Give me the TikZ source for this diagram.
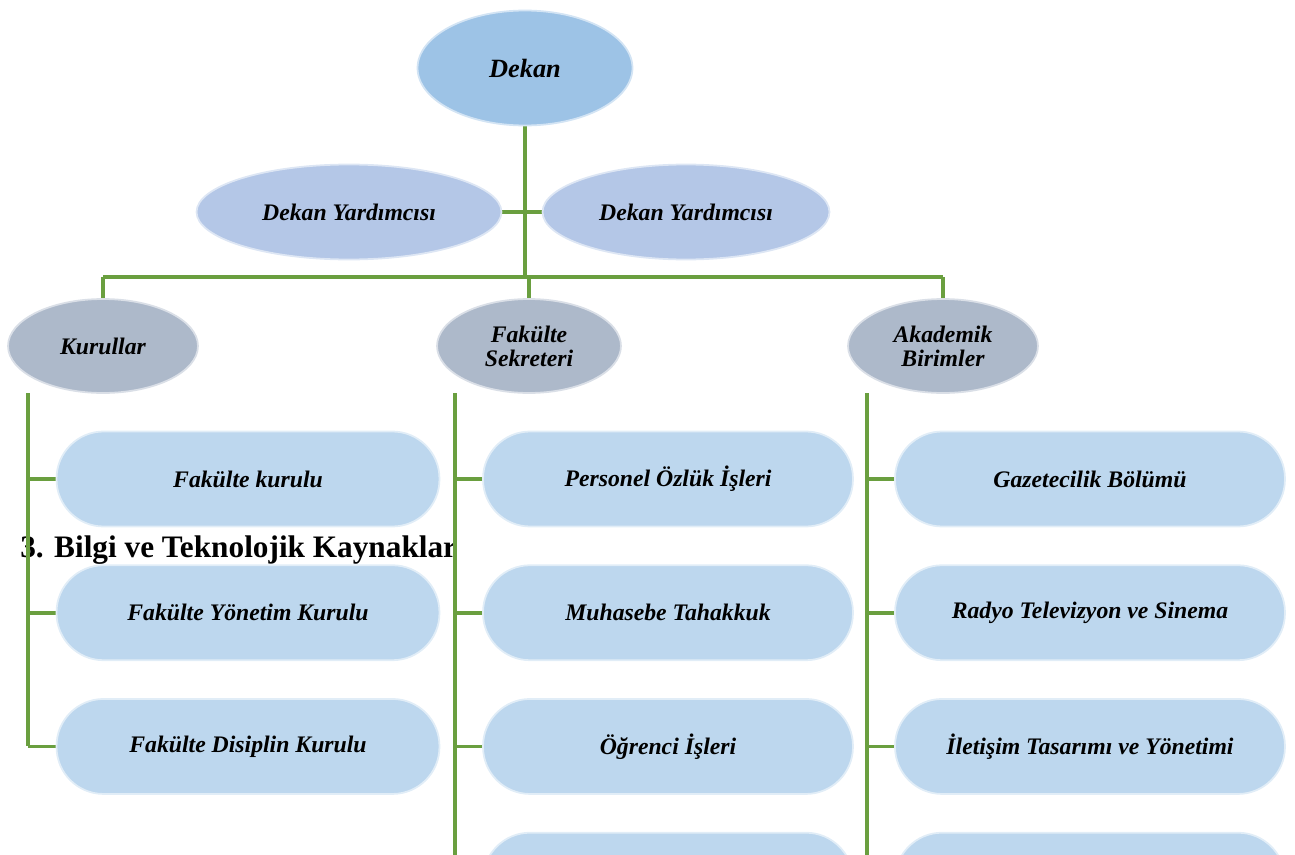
\documentclass[tikz,border=0pt]{standalone}
\usepackage{fontspec}
\setmainfont{Liberation Serif}
\usetikzlibrary{shapes.geometric, positioning, backgrounds}

\definecolor{dekanblue}{HTML}{9DC3E6}
\definecolor{yardblue}{HTML}{B4C7E7}
\definecolor{unitgrey}{HTML}{ADB9CA}
\definecolor{pillblue}{HTML}{BDD7EE}
\definecolor{linkgreen}{HTML}{6A9F3F}

\begin{document}
\begin{tikzpicture}[x=0.02cm, y=-0.02cm, node distance=0.74cm]
\tikzstyle{oval}=[ellipse, inner sep=0pt, align=center, line width=1pt,
  font=\fontsize{13.5}{13.7}\selectfont\bfseries\itshape]
\tikzstyle{pill}=[rectangle, rounded corners=0.94cm, minimum height=1.9cm, inner sep=0pt,
  fill=pillblue, draw=white!55!pillblue, line width=1pt,
  font=\fontsize{13.5}{14}\selectfont\bfseries\itshape]
\tikzstyle{link}=[draw=linkgreen, line width=2.2pt]

\useasboundingbox (0,0) rectangle (1295,855);
\clip (0,0) rectangle (1295,855);

\node[oval, fill=dekanblue, draw=white!55!dekanblue, minimum width=4.3cm, minimum height=2.3cm,
  font=\fontsize{15}{16}\selectfont\bfseries\itshape] (dekan) at (525,68) {Dekan};
\node[oval, fill=yardblue, draw=white!55!yardblue, minimum width=6.1cm, minimum height=1.9cm] (yard1) at (349,212) {Dekan Yardımcısı};
\node[oval, fill=yardblue, draw=white!55!yardblue, minimum width=5.74cm, minimum height=1.9cm] (yard2) at (686,212) {Dekan Yardımcısı};

\node[oval, fill=unitgrey, draw=white!55!unitgrey, minimum width=3.8cm, minimum height=1.88cm] (kurullar) at (103,346) {Kurullar};
\node[oval, fill=unitgrey, draw=white!55!unitgrey, minimum width=3.68cm, minimum height=1.88cm] (sekreter) at (529,346) {Fakülte\\Sekreteri};
\node[oval, fill=unitgrey, draw=white!55!unitgrey, minimum width=3.8cm, minimum height=1.88cm] (akademik) at (943,346) {Akademik\\Birimler};

% Kurullar
\node[pill, minimum width=7.66cm] (kur1) at (248,479) {Fakülte kurulu};
\node[pill, minimum width=7.66cm, below=of kur1] (kur2) {Fakülte Yönetim Kurulu};
\node[pill, minimum width=7.66cm, below=of kur2] (kur3) {Fakülte Disiplin Kurulu};

% Fakulte Sekreteri
\node[pill, minimum width=7.4cm] (sek1) at (668,479) {Personel Özlük İşleri};
\node[pill, minimum width=7.4cm, below=of sek1] (sek2) {Muhasebe Tahakkuk};
\node[pill, minimum width=7.4cm, below=of sek2] (sek3) {Öğrenci İşleri};
\node[pill, minimum width=7.4cm, below=of sek3] (sek4) {};

% Akademik Birimler
\node[pill, minimum width=7.8cm] (aka1) at (1090,479) {Gazetecilik Bölümü};
\node[pill, minimum width=7.8cm, below=of aka1] (aka2) {Radyo Televizyon ve Sinema};
\node[pill, minimum width=7.8cm, below=of aka2] (aka3) {İletişim Tasarımı ve Yönetimi};
\node[pill, minimum width=7.8cm, below=of aka3] (aka4) {};

\coordinate (bar) at (525,277);
\coordinate (kurTop) at (28,393);
\coordinate (sekTop) at (455,393);
\coordinate (akaTop) at (867,393);
\coordinate (sekEnd) at (455,870);
\coordinate (akaEnd) at (867,870);

\begin{scope}[on background layer]
\node[anchor=base west, inner sep=0pt, font=\fontsize{17.8}{19}\selectfont\bfseries] (baslik) at (20,557) {3. Bilgi ve Teknolojik Kaynaklar};

\draw[link] (dekan.south) -- (bar);
\draw[link] (yard1.east) -- (yard2.west);
\draw[link] (kurullar.north |- bar) -- (akademik.north |- bar);
\draw[link] (kurullar.north |- bar) -- (kurullar.north);
\draw[link] (sekreter.north |- bar) -- (sekreter.north);
\draw[link] (akademik.north |- bar) -- (akademik.north);

\draw[link] (kurTop) -- (kurTop |- kur3.west);
\draw[link] (sekTop) -- (sekEnd);
\draw[link] (akaTop) -- (akaEnd);
\foreach \i in {1,2,3} {
  \draw[link] (kurTop |- kur\i.west) -- (kur\i.west);
  \draw[link] (sekTop |- sek\i.west) -- (sek\i.west);
  \draw[link] (akaTop |- aka\i.west) -- (aka\i.west);
}
\end{scope}
\end{tikzpicture}
\end{document}
